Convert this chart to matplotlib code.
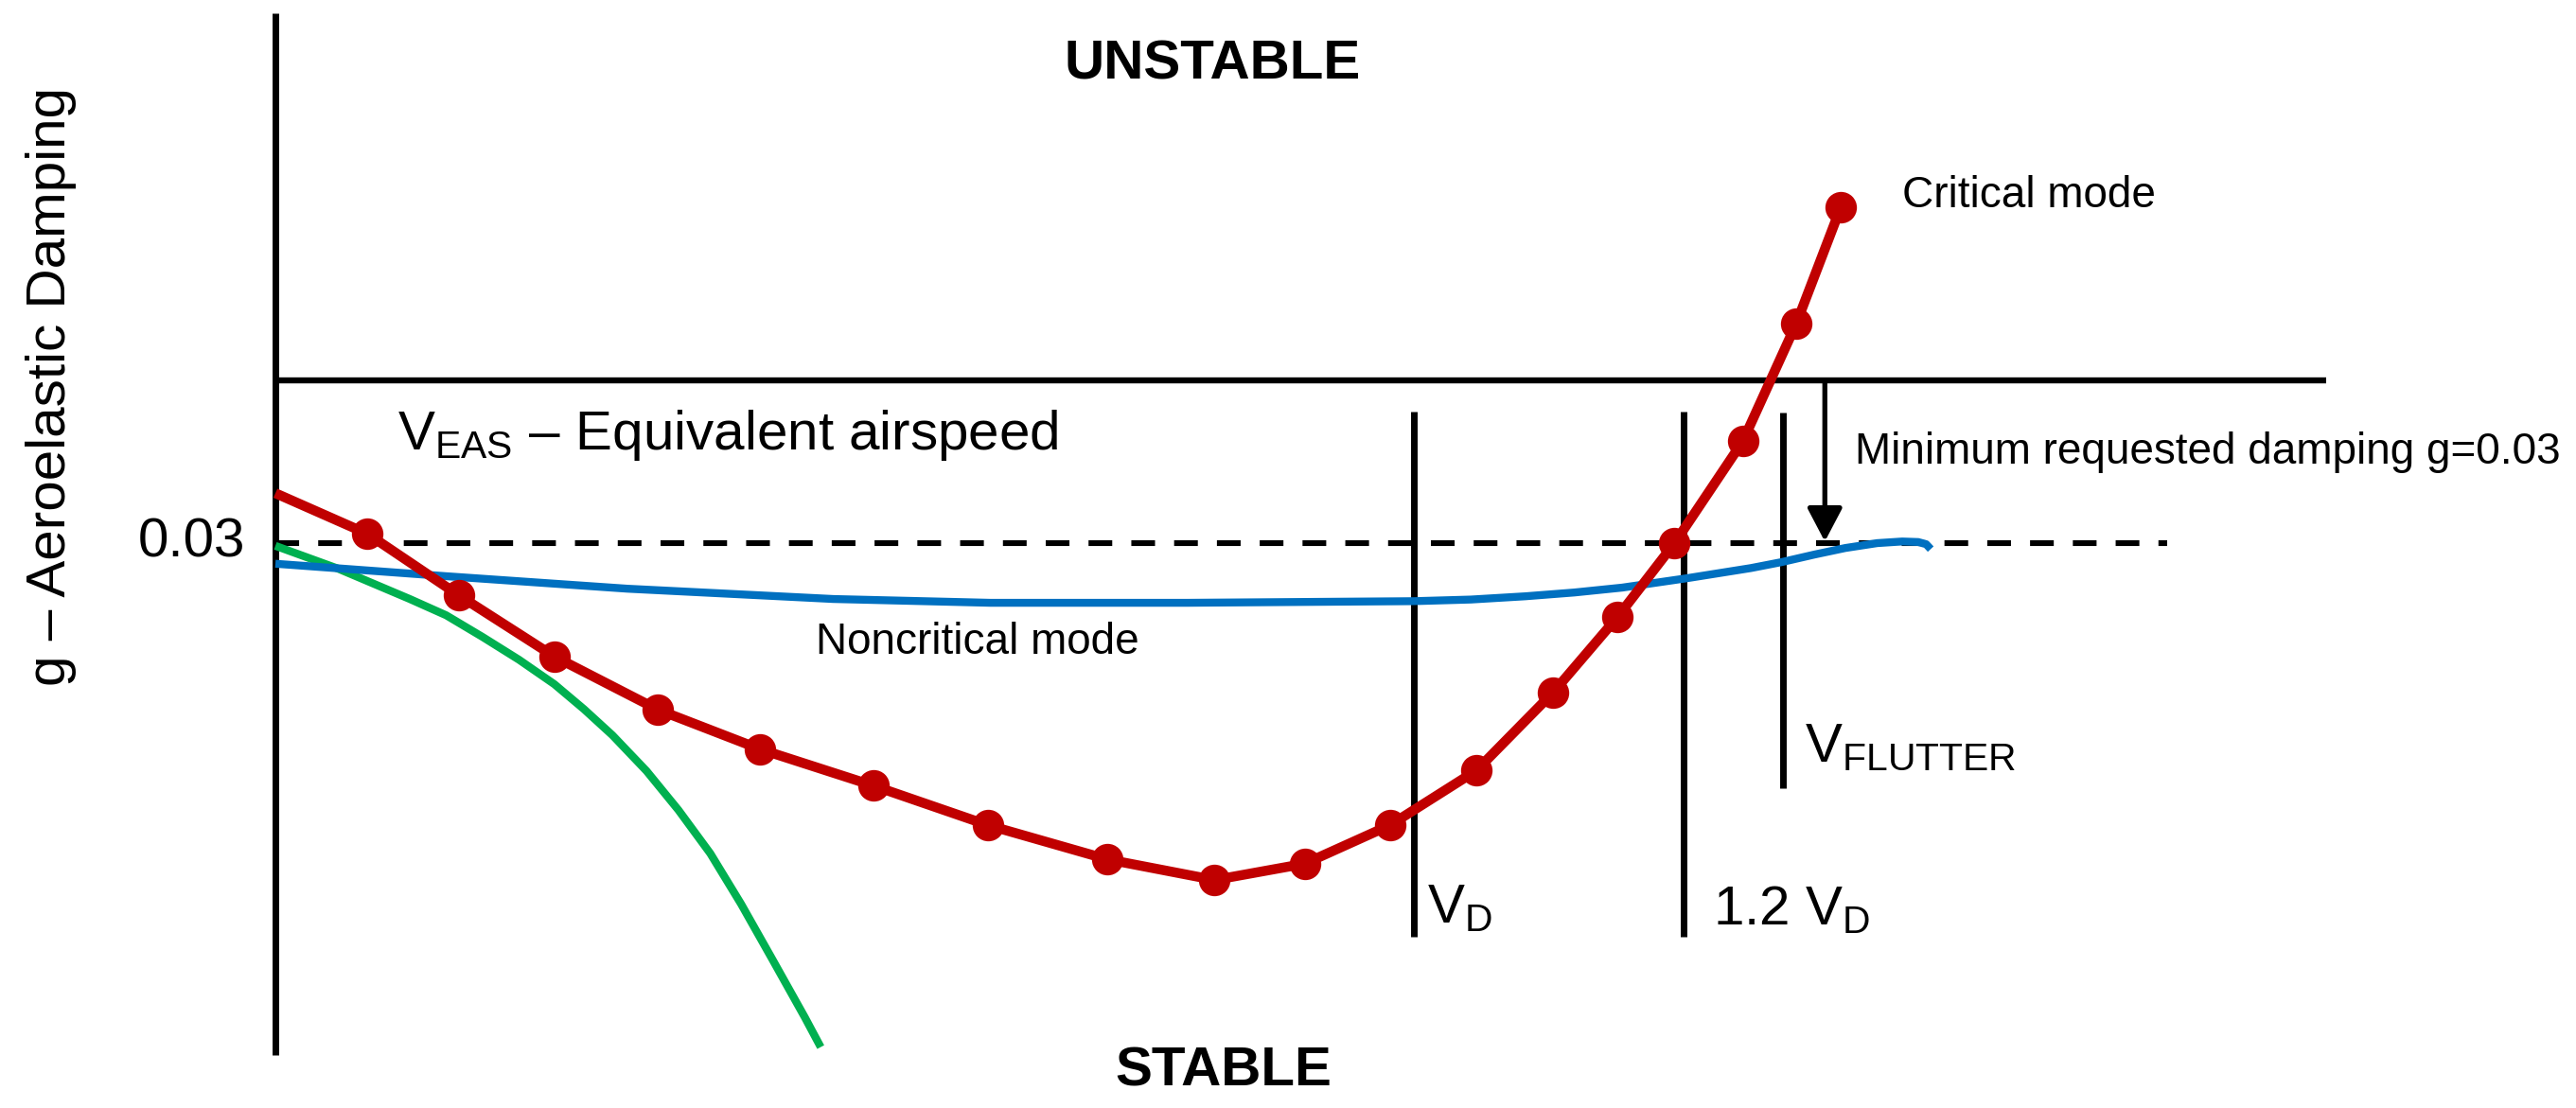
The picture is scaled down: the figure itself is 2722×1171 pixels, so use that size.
import matplotlib
matplotlib.use("Agg")
import matplotlib.pyplot as plt

plt.rcParams['font.family'] = ['Liberation Sans', 'DejaVu Sans']
plt.rcParams['mathtext.fontset'] = 'custom'
plt.rcParams['mathtext.rm'] = 'Liberation Sans'
plt.rcParams['mathtext.it'] = 'Liberation Sans:italic'

# airspeed in units of V_D, damping g (positive = stable side, drawn downward)
critical_v = [0.000, 0.081, 0.161, 0.245, 0.336, 0.426, 0.525, 0.626, 0.731,
              0.825, 0.904, 0.979, 1.055, 1.122, 1.179, 1.229, 1.289, 1.336, 1.375]
critical_g = [0.0208, 0.0283, 0.0396, 0.0509, 0.0607, 0.0680, 0.0747, 0.0820, 0.0883,
              0.0921, 0.0891, 0.0820, 0.0719, 0.0576, 0.0436, 0.0300, 0.0112, -0.0105, -0.0319]
# first point is where the curve leaves the axis, no marker
critical_marked = list(range(1, len(critical_v)))

noncritical_v = [0.000, 0.150, 0.309, 0.490, 0.628, 0.801, 1.000, 1.050, 1.098, 1.141,
                 1.183, 1.239, 1.296, 1.323, 1.352, 1.379, 1.407, 1.429, 1.443, 1.450, 1.454]
noncritical_g = [0.0338, 0.0361, 0.0384, 0.0403, 0.0410, 0.0410, 0.0407, 0.0404, 0.0398,
                 0.0391, 0.0382, 0.0365, 0.0346, 0.0335, 0.0321, 0.0309, 0.0300, 0.0297,
                 0.0298, 0.0302, 0.0311]

other_v = [0.000, 0.055, 0.118, 0.150, 0.182, 0.214, 0.245, 0.271, 0.296, 0.326, 0.354,
           0.382, 0.409, 0.437, 0.465, 0.479]
other_g = [0.0305, 0.0347, 0.0403, 0.0433, 0.0473, 0.0515, 0.0560, 0.0606, 0.0654, 0.0720,
           0.0792, 0.0872, 0.0965, 0.1069, 0.1174, 0.1229]

g_min = 0.03
v_d = 1.0
v_12d = 1.237
v_flutter = 1.324
v_arrow = 1.361

fig = plt.figure(figsize=(27.22, 11.71), dpi=100)
ax = fig.add_axes([0, 0, 1, 1])
ax.set_xlim(-0.2419, 2.0208)
ax.set_ylim(0.13413, -0.07012)
ax.axis('off')

black = '#000000'
red = '#C00000'
blue = '#0070C0'
green = '#00B050'

# frame lines
ax.plot([0, 0], [-0.0677, 0.1244], color=black, lw=5, solid_capstyle='butt', zorder=3)
ax.plot([0, 1.801], [0, 0], color=black, lw=4.6, solid_capstyle='butt', zorder=3)
ax.plot([0, 1.662], [g_min, g_min], color=black, lw=4.4, ls=(0, (4.1, 3.3)), zorder=2)

# speed markers
for v, top, bot in [(v_d, 0.0058, 0.1026), (v_12d, 0.0058, 0.1026), (v_flutter, 0.0059, 0.0752)]:
    ax.plot([v, v], [top, bot], color=black, lw=5, solid_capstyle='butt', zorder=4)

# modes
ax.plot(other_v, other_g, color=green, lw=6, solid_capstyle='butt',
        solid_joinstyle='round', zorder=5)
ax.plot(noncritical_v, noncritical_g, color=blue, lw=6, solid_capstyle='butt',
        solid_joinstyle='round', zorder=6)
ax.plot(critical_v, critical_g, color=red, lw=7.5, solid_capstyle='butt',
        solid_joinstyle='round', zorder=7)
ax.plot([critical_v[i] for i in critical_marked], [critical_g[i] for i in critical_marked],
        'o', color=red, ms=24, mec='none', zorder=8)

# required damping arrow
ax.annotate('', xy=(v_arrow, 0.0297), xytext=(v_arrow, 0.0005),
            arrowprops=dict(arrowstyle='-|>,head_length=0.4,head_width=0.21', color=black,
                            lw=3.8, mutation_scale=54, shrinkA=0, shrinkB=0), zorder=6)

big = 42
small = 33
ax.text(0.823, -0.0555, 'UNSTABLE', fontsize=big, fontweight='bold', ha='center', va='baseline')
ax.text(0.833, 0.1301, 'STABLE', fontsize=big, fontweight='bold', ha='center', va='baseline')
ax.text(0.107, 0.0127, r'$\mathrm{V_{EAS}}$ – Equivalent airspeed', fontsize=big,
        ha='left', va='baseline')
ax.text(-0.0266, 0.0326, '0.03', fontsize=big, ha='right', va='baseline')
ax.text(-0.1845, 0.0011, 'g – Aeroelastic Damping', fontsize=big, rotation=90,
        rotation_mode='anchor', ha='center', va='baseline')
ax.text(0.4746, 0.0504, 'Noncritical mode', fontsize=small, ha='left', va='baseline')
ax.text(1.4289, -0.0319, 'Critical mode', fontsize=small, ha='left', va='baseline')
ax.text(1.3874, 0.0153, 'Minimum requested damping g=0.03', fontsize=small,
        ha='left', va='baseline')
ax.text(1.0116, 0.0999, r'$\mathrm{V_D}$', fontsize=big, ha='left', va='baseline')
ax.text(1.2627, 0.1003, r'1.2 $\mathrm{V_D}$', fontsize=big, ha='left', va='baseline')
ax.text(1.3433, 0.0703, r'$\mathrm{V_{FLUTTER}}$', fontsize=big, ha='left', va='baseline')

fig.savefig('out.png', dpi=100, facecolor='white')
